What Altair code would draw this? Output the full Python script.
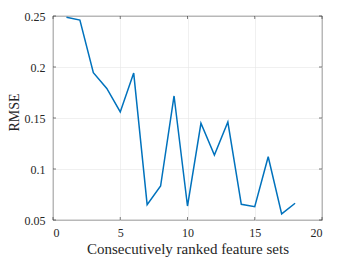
import altair as alt
import pandas as pd

xs = list(range(1, 19))
rmse = [0.2487, 0.246, 0.1944, 0.179, 0.156, 0.194, 0.065, 0.0833, 0.1716,
        0.0637, 0.1448, 0.1137, 0.146, 0.0654, 0.063, 0.112, 0.056, 0.0664]
x_ticks = [0, 5, 10, 15, 20]
y_ticks = [0.05, 0.1, 0.15, 0.2, 0.25]

df = pd.DataFrame({"x": xs, "y": rmse})
W, H = 269, 204
FONT = "Liberation Serif"
AX = "#262626"

xscale = alt.Scale(domain=[0, 20], nice=False, zero=False)
yscale = alt.Scale(domain=[0.05, 0.25], nice=False, zero=False)

line = alt.Chart(df).mark_line(color="#0072BD", strokeWidth=1.5, clip=True).encode(
    x=alt.X("x:Q", scale=xscale,
            axis=alt.Axis(values=x_ticks, title="Consecutively ranked feature sets",
                          grid=True, tickSize=0, labelPadding=7, titlePadding=3,
                          titleFontSize=15)),
    y=alt.Y("y:Q", scale=yscale,
            axis=alt.Axis(values=y_ticks, title="RMSE", format=".2~f",
                          grid=True, tickSize=0, labelPadding=8,
                          titleFontSize=14, titleX=-39, titleY=H / 2 - 6,
                          titleAngle=270, titleAlign="center",
                          titleBaseline="middle")),
)

xt = pd.DataFrame({"x": x_ticks})
yt = pd.DataFrame({"y": y_ticks})
tb = alt.Chart(xt).mark_rule(color=AX, strokeWidth=0.6).encode(
    x=alt.X("x:Q", scale=xscale), y=alt.value(H), y2=alt.value(H - 3))
tt = alt.Chart(xt).mark_rule(color=AX, strokeWidth=0.6).encode(
    x=alt.X("x:Q", scale=xscale), y=alt.value(0), y2=alt.value(3))
tl = alt.Chart(yt).mark_rule(color=AX, strokeWidth=0.6).encode(
    y=alt.Y("y:Q", scale=yscale), x=alt.value(0), x2=alt.value(3))
tr = alt.Chart(yt).mark_rule(color=AX, strokeWidth=0.6).encode(
    y=alt.Y("y:Q", scale=yscale), x=alt.value(W), x2=alt.value(W - 3))

chart = alt.layer(line, tb, tt, tl, tr).properties(
    width=W, height=H,
    background="white",
    autosize=alt.AutoSizeParams(type="none"),
    padding={"left": 45, "top": 8, "right": 9, "bottom": 42},
).configure_view(stroke=AX, strokeWidth=0.8).configure_axis(
    labelFont=FONT, titleFont=FONT, labelFontSize=12,
    labelColor=AX, titleColor=AX, titleFontWeight="normal",
    domain=False, gridColor="#e6e6e6", gridWidth=0.6,
)

chart.save("out.html", embed_options={"renderer": "svg", "actions": False})
